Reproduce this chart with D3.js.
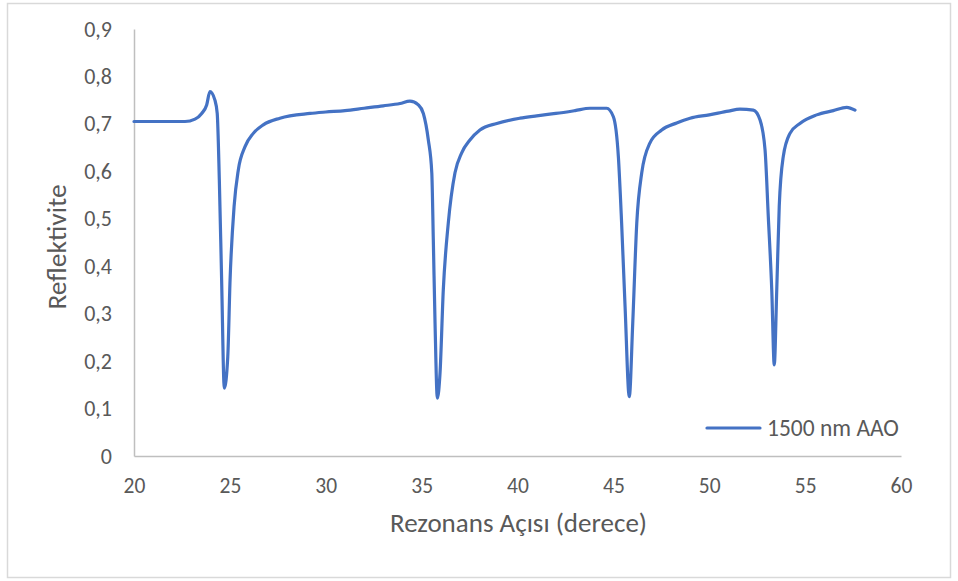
<!DOCTYPE html>
<html>
<head>
<meta charset="utf-8">
<script src="https://cdn.jsdelivr.net/npm/d3@7"></script>
<style>
  html, body { margin: 0; padding: 0; background: #fff; }
  svg { display: block; }
  text { font-family: Carlito, Calibri, Lato, sans-serif; fill: #595959; }
</style>
</head>
<body>
<svg id="chart" width="958" height="581"></svg>
<script>
// ---- data ----
const seriesName = "1500 nm AAO";
const angle = [20, 22.66, 23.18, 23.53, 23.79, 23.96, 24.22, 24.34, 24.45, 24.57, 24.71, 24.89, 25.01, 25.22, 25.44, 25.79, 26.22, 26.74, 27.61, 29.18,
  30, 31, 32, 33, 33.87, 34.39, 34.83, 35.09, 35.35, 35.53, 35.61, 35.70, 35.82, 35.96, 36.13, 36.39, 36.74, 37.09, 37.52, 38.04, 38.92, 40.13,
  41, 42, 43, 43.78, 44.65, 45.0, 45.26, 45.43, 45.61, 45.83, 46.01, 46.22, 46.48, 46.91, 47.52, 48.30, 49.0,
  50, 51, 51.60, 52.30, 52.65, 52.91, 53.08, 53.26, 53.39, 53.52, 53.65, 53.86, 54.21, 54.73, 55.60, 56.47, 57.17, 57.60];
const reflectivity = [0.705, 0.705, 0.710, 0.722, 0.740, 0.768, 0.750, 0.722, 0.582, 0.371, 0.143, 0.209, 0.371, 0.526, 0.603, 0.652, 0.680, 0.698, 0.712, 0.722,
  0.725, 0.728, 0.733, 0.738, 0.743, 0.748, 0.740, 0.722, 0.666, 0.597, 0.455, 0.280, 0.122, 0.175, 0.350, 0.491, 0.597, 0.639, 0.666, 0.687, 0.701, 0.712,
  0.717, 0.722, 0.728, 0.733, 0.733, 0.715, 0.631, 0.491, 0.315, 0.125, 0.280, 0.491, 0.597, 0.660, 0.687, 0.702, 0.712,
  0.719, 0.727, 0.731, 0.729, 0.708, 0.645, 0.504, 0.350, 0.192, 0.350, 0.526, 0.631, 0.680, 0.701, 0.719, 0.728, 0.735, 0.729];
const xTicks = [20, 25, 30, 35, 40, 45, 50, 55, 60];
const yTicks = [0, 0.1, 0.2, 0.3, 0.4, 0.5, 0.6, 0.7, 0.8, 0.9];
const xTitle = "Rezonans Açısı (derece)";
const yTitle = "Reflektivite";

// ---- layout ----
const svg = d3.select("#chart");
const mLeft = 134, mRight = 901, mTop = 29, mBottom = 456;
const x = d3.scaleLinear().domain([20, 60]).range([mLeft, mRight]);
const y = d3.scaleLinear().domain([0, 0.9]).range([mBottom, mTop]);
const FONT = "Carlito, Calibri, Lato, sans-serif";

// outer border
svg.append("rect").attr("x", 7.5).attr("y", 3.5).attr("width", 943).attr("height", 574)
  .attr("fill", "none").attr("stroke", "#d9d9d9").attr("stroke-width", 1.5);

const fmt = d => d === 0 ? "0" : d3.format(".1f")(d).replace(".", ",");

// y axis
const yAxis = svg.append("g").attr("transform", `translate(${mLeft},0)`)
  .call(d3.axisLeft(y).tickValues(yTicks).tickSize(0).tickPadding(22).tickFormat(fmt));
yAxis.select(".domain").attr("stroke", "#bfbfbf").attr("stroke-width", 1.5);
yAxis.selectAll("text").style("font-size", "22px").attr("fill", "#595959").style("font-family", FONT);

// x axis
const xAxis = svg.append("g").attr("transform", `translate(0,${mBottom})`)
  .call(d3.axisBottom(x).tickValues(xTicks).tickSize(0).tickPadding(22));
xAxis.select(".domain").attr("stroke", "#bfbfbf").attr("stroke-width", 1.5);
xAxis.selectAll("text").style("font-size", "21.5px").attr("fill", "#595959").style("font-family", FONT);

// titles
svg.append("text").attr("x", (mLeft + mRight) / 2 + 1).attr("y", 532)
  .attr("text-anchor", "middle").style("font-size", "27px").text(xTitle);
svg.append("text").attr("transform", `translate(66,247) rotate(-90)`)
  .attr("text-anchor", "middle").style("font-size", "27.5px").text(yTitle);

// line
const data = angle.map((a, i) => [a, reflectivity[i]]);
svg.append("path").datum(data)
  .attr("fill", "none").attr("stroke", "#4472c4").attr("stroke-width", 3.2)
  .attr("stroke-linejoin", "round").attr("stroke-linecap", "round")
  .attr("d", d3.line().x(d => x(d[0])).y(d => y(d[1])).curve(d3.curveMonotoneX));

// legend
const lg = svg.append("g").attr("transform", "translate(707,428)");
lg.append("line").attr("x1", 0).attr("x2", 53).attr("y1", 0).attr("y2", 0)
  .attr("stroke", "#4472c4").attr("stroke-width", 3.2).attr("stroke-linecap", "round");
lg.append("text").attr("x", 60).attr("y", 7.5).style("font-size", "23.5px").text(seriesName);
</script>
</body>
</html>
